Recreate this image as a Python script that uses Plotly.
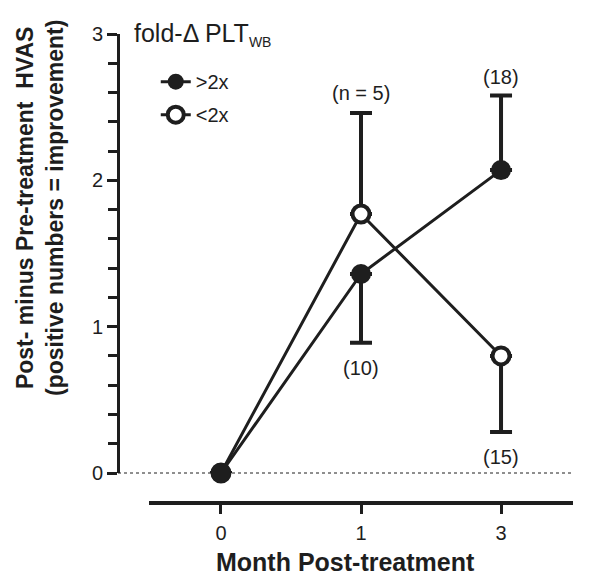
import plotly.graph_objects as go

months = ["0", "1", "3"]
xpos = [0, 1, 2]
hi_vals = [0, 1.36, 2.07]
hi_err_up = [0, 0, 0.51]
hi_err_down = [0, 0.47, 0]
lo_vals = [0, 1.77, 0.80]
lo_err_up = [0, 0.69, 0]
lo_err_down = [0, 0, 0.52]
n_labels = [("(n = 5)", 1, 2.60), ("(10)", 1, 0.72), ("(18)", 2, 2.705), ("(15)", 2, 0.11)]
y_major = [0, 1, 2, 3]

INK = "#1e1e1e"
FONT = "Arial, Liberation Sans, sans-serif"

X_DOM0 = 31 / 455
Y_DOM0 = 30 / 469

fig = go.Figure()
fig.add_trace(go.Scatter(
    x=xpos, y=lo_vals, name="<2x", mode="lines+markers", legendgroup="b", legendrank=2,
    cliponaxis=False,
    line=dict(color=INK, width=3),
    marker=dict(symbol="circle", size=17, color="white", line=dict(color=INK, width=4)),
    error_y=dict(type="data", symmetric=False, array=lo_err_up, arrayminus=lo_err_down,
                 color=INK, thickness=4, width=11),
))
fig.add_trace(go.Scatter(
    x=xpos, y=hi_vals, name=">2x", mode="lines+markers", legendgroup="a", legendrank=1,
    cliponaxis=False,
    line=dict(color=INK, width=3),
    marker=dict(symbol="circle", size=20, color=INK),
    error_y=dict(type="data", symmetric=False, array=hi_err_up, arrayminus=hi_err_down,
                 color=INK, thickness=4, width=11),
))

for txt, xx, yy in n_labels:
    fig.add_annotation(x=xx, y=yy, text=txt, showarrow=False,
                       font=dict(family=FONT, size=20, color=INK))

fig.add_shape(type="line", xref="paper", yref="paper", x0=0, x1=1, y0=Y_DOM0, y1=Y_DOM0,
              line=dict(color=INK, width=1, dash="dot"), layer="below")

fig.add_annotation(xref="paper", yref="paper", x=0.03, y=1.0, xanchor="left", yanchor="middle",
                   text="fold-Δ PLT<sub><span style='font-size:14px'>WB</span></sub>", showarrow=False,
                   font=dict(family=FONT, size=25, color=INK))

fig.add_annotation(xref="paper", yref="paper", x=-0.1714, y=0.629, textangle=-90,
                   xanchor="center", yanchor="middle",
                   text="<b>Post- minus Pre-treatment  HVAS<br>(positive numbers = improvement)</b>",
                   showarrow=False, font=dict(family=FONT, size=23, color=INK))

fig.add_annotation(xref="paper", yref="paper", x=0.499, y=-0.125,
                   xanchor="center", yanchor="middle",
                   text="<b>Month Post-treatment</b>",
                   showarrow=False, font=dict(family=FONT, size=25, color=INK))

fig.update_layout(
    width=601, height=576,
    margin=dict(l=118, r=28, t=34, b=73),
    plot_bgcolor="white", paper_bgcolor="white",
    font=dict(family=FONT, color=INK),
    showlegend=True,
    legend=dict(x=0.083, y=0.94, xanchor="left", yanchor="top",
                font=dict(family=FONT, size=20, color=INK),
                bgcolor="rgba(0,0,0,0)", tracegroupgap=4),
    xaxis=dict(domain=[X_DOM0, 1], range=[-0.514, 2.514], anchor="free", position=0,
               showgrid=False, zeroline=False, showline=True, linewidth=4, linecolor=INK,
               tickvals=xpos, ticktext=months, ticks="outside", ticklen=9, tickwidth=3,
               tickcolor=INK, tickfont=dict(family=FONT, size=20, color=INK),
               ticklabelstandoff=2),
    yaxis=dict(domain=[Y_DOM0, 1], range=[0, 3], anchor="free", position=0,
               showgrid=False, zeroline=False, showline=True, linewidth=3, linecolor=INK,
               tickvals=y_major, ticks="outside", ticklen=10, tickwidth=3, tickcolor=INK,
               tickfont=dict(family=FONT, size=20, color=INK),
               minor=dict(tick0=0, dtick=0.2, ticks="outside", ticklen=9, tickwidth=3,
                          tickcolor=INK, showgrid=False)),
)

fig.write_html("out.html")
